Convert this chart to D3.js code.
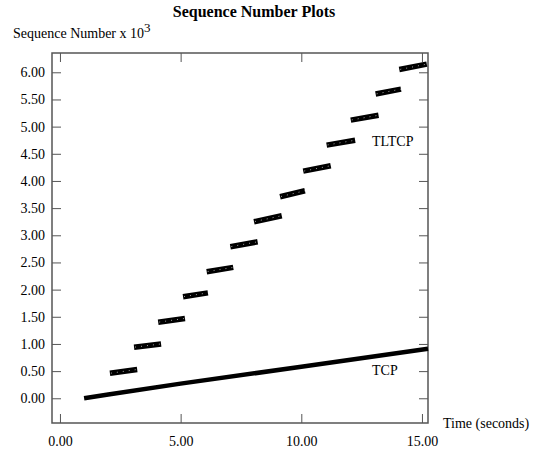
<!DOCTYPE html>
<html>
<head>
<meta charset="utf-8">
<script src="https://cdn.jsdelivr.net/npm/d3@7"></script>
<style>
  body { margin: 0; background: #fff; }
  svg text { font-family: "Liberation Serif", "Times New Roman", serif; fill: #000; }
</style>
</head>
<body>
<div id="chart"></div>
<script>
// TLTCP bursts: one short segment per burst (start/end time, start/end seq x 10^3)
const burstStartTime = [2.07, 3.07, 4.07, 5.10, 6.08, 7.06, 8.04, 9.12, 10.08, 11.05, 12.05, 13.08, 14.06];
const burstEndTime   = [3.20, 4.19, 5.18, 6.13, 7.18, 8.19, 9.19, 10.15, 11.22, 12.23, 13.20, 14.13, 15.20];
const burstStartSeq  = [0.46, 0.94, 1.40, 1.87, 2.33, 2.79, 3.25, 3.71, 4.18, 4.66, 5.12, 5.60, 6.05];
const burstEndSeq    = [0.53, 1.00, 1.47, 1.94, 2.41, 2.88, 3.36, 3.82, 4.28, 4.75, 5.21, 5.69, 6.15];

// TCP: steady line
const tcpTime = [1.0, 2.0, 5.0, 10.0, 15.25];
const tcpSeq  = [0.0, 0.07, 0.27, 0.58, 0.91];

const xTicks = [0, 5, 10, 15];
const yTicks = [0, 0.5, 1, 1.5, 2, 2.5, 3, 3.5, 4, 4.5, 5, 5.5, 6];

const width = 545, height = 450;
const plot = { left: 52, right: 428, top: 53, bottom: 423 };

const svg = d3.select('#chart').append('svg')
    .attr('width', width)
    .attr('height', height);

const x = d3.scaleLinear().domain([-0.33, 15.25]).range([plot.left, plot.right]);
const y = d3.scaleLinear().domain([-0.455, 6.355]).range([plot.bottom, plot.top]);
const fmt = d3.format('.2f');

// ticks, pointing inward on all four sides
const tickLen = 9;
const axisColor = '#555';

function styleAxis(sel) {
    sel.select('.domain').remove();
    sel.selectAll('.tick line').attr('stroke', axisColor).attr('stroke-width', 1);
    sel.selectAll('.tick text').style('font-size', '14px');
}

svg.append('g')
    .attr('transform', `translate(0,${plot.bottom})`)
    .call(d3.axisBottom(x).tickValues(xTicks).tickFormat(fmt).tickSizeInner(-tickLen).tickPadding(13))
    .call(styleAxis);

svg.append('g')
    .attr('transform', `translate(0,${plot.top})`)
    .call(d3.axisTop(x).tickValues(xTicks).tickFormat('').tickSizeInner(-tickLen))
    .call(styleAxis);

svg.append('g')
    .attr('transform', `translate(${plot.left},0)`)
    .call(d3.axisLeft(y).tickValues(yTicks).tickFormat(fmt).tickSizeInner(-tickLen).tickPadding(7))
    .call(styleAxis);

svg.append('g')
    .attr('transform', `translate(${plot.right},0)`)
    .call(d3.axisRight(y).tickValues(yTicks).tickFormat('').tickSizeInner(-tickLen))
    .call(styleAxis);

// frame
svg.append('rect')
    .attr('x', plot.left)
    .attr('y', plot.top)
    .attr('width', plot.right - plot.left)
    .attr('height', plot.bottom - plot.top)
    .attr('fill', 'none')
    .attr('stroke', axisColor)
    .attr('stroke-width', 1.5);

const line = d3.line().x(d => x(d[0])).y(d => y(d[1]));

// TCP line
const tcpPts = tcpTime.map((t, i) => [t, tcpSeq[i]]);
svg.append('path')
    .attr('d', line(tcpPts))
    .attr('fill', 'none')
    .attr('stroke', '#000')
    .attr('stroke-width', 4.5);

// TLTCP bursts
const bursts = burstStartTime.map((t, i) => [[t, burstStartSeq[i]], [burstEndTime[i], burstEndSeq[i]]]);

svg.append('g').selectAll('path')
    .data(bursts)
    .enter().append('path')
    .attr('d', d => line(d))
    .attr('fill', 'none')
    .attr('stroke', '#000')
    .attr('stroke-width', 5.5);

// little white dots inside the bursts
svg.append('g').selectAll('path')
    .data(bursts)
    .enter().append('path')
    .attr('d', d => line(d))
    .attr('fill', 'none')
    .attr('stroke', '#ccc')
    .attr('stroke-width', 0.8)
    .attr('stroke-dasharray', '1,5')
    .attr('stroke-dashoffset', -1);

// series labels
svg.append('text')
    .attr('x', 372)
    .attr('y', 146)
    .style('font-size', '14px')
    .text('TLTCP');

svg.append('text')
    .attr('x', 372)
    .attr('y', 375)
    .style('font-size', '14px')
    .text('TCP');

// title and axis labels
svg.append('text')
    .attr('x', 254)
    .attr('y', 17)
    .attr('text-anchor', 'middle')
    .style('font-size', '16px')
    .style('font-weight', 'bold')
    .text('Sequence Number Plots');

const yLab = svg.append('text')
    .attr('x', 13)
    .attr('y', 38)
    .style('font-size', '14px')
    .text('Sequence Number x 10');
yLab.append('tspan')
    .attr('dy', -6)
    .style('font-size', '13px')
    .text('3');

svg.append('text')
    .attr('x', 443)
    .attr('y', 428)
    .style('font-size', '14px')
    .text('Time (seconds)');
</script>
</body>
</html>
